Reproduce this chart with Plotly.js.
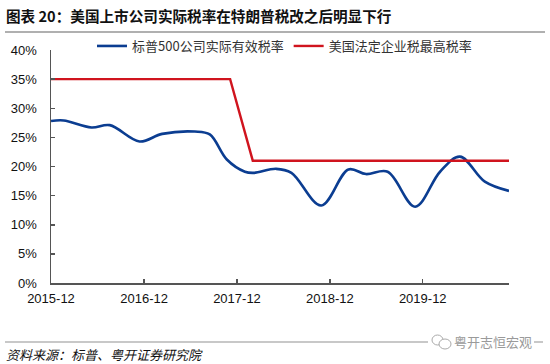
<!DOCTYPE html>
<html>
<head>
<meta charset="utf-8">
<script src="https://cdn.plot.ly/plotly-3.0.1.min.js"></script>
<style>
html,body{margin:0;padding:0;background:#fff;}
#chart{width:550px;height:364px;}
</style>
</head>
<body>
<div id="chart"></div>
<script>
// Data
const blueName = '标普500公司实际有效税率';
const redName = '美国法定企业税最高税率';
const blueDates = ['2015-12-01','2016-01-20','2016-05-08','2016-07-19','2016-11-13','2017-02-10','2017-06-18','2017-08-16','2017-10-22','2018-01-01','2018-02-03','2018-05-04','2018-07-03','2018-10-28','2019-02-12','2019-04-22','2019-07-16','2019-11-01','2020-02-07','2020-04-25','2020-08-01','2020-11-04'];
const blueValues = [27.8,27.9,26.7,27.1,24.3,25.6,26.0,25.5,21.2,19.1,18.9,19.6,18.9,13.3,19.5,18.7,19.1,13.1,19.1,21.7,17.4,15.8];
const redDates = ['2015-12-01','2017-11-04','2018-02-01','2020-11-04'];
const redValues = [35,35,21,21];
const tickDates = ['2015-12-01','2016-12-01','2017-12-01','2018-12-01','2019-12-01'];
const tickLabels = ['2015-12','2016-12','2017-12','2018-12','2019-12'];

const F = 'Liberation Sans, Arial, Noto Sans CJK SC, sans-serif';
const CJK = 'Noto Sans CJK SC, Liberation Sans, sans-serif';

const traces = [
  {x: blueDates, y: blueValues, name: blueName, type: 'scatter', mode: 'lines',
   line: {color: '#0b3d91', width: 2.6, shape: 'spline', smoothing: 1}},
  {x: redDates, y: redValues, name: redName, type: 'scatter', mode: 'lines',
   line: {color: '#d0141e', width: 2.4}}
];

// pixel -> paper helpers for decorations (plot area 51..509 x 50..283)
const px = v => (v - 51) / 458;
const py = v => (283 - v) / 233;

const layout = {
  width: 550, height: 364,
  margin: {l: 51, r: 41, t: 50, b: 81},
  paper_bgcolor: '#fff', plot_bgcolor: '#fff',
  font: {family: F, size: 13, color: '#111'},
  showlegend: true,
  legend: {orientation: 'h', x: px(92), y: py(46), xanchor: 'left', yanchor: 'middle',
           font: {family: CJK, size: 13, color: '#333'}, bgcolor: 'rgba(0,0,0,0)', tracegroupgap: 0},
  xaxis: {type: 'date', range: ['2015-12-01','2020-11-04'], tickvals: tickDates, ticktext: tickLabels,
          showgrid: false, zeroline: false, showline: true, linecolor: '#555', linewidth: 1.5,
          ticks: 'inside', ticklen: 4, tickcolor: '#555', tickwidth: 1.5, ticklabelstandoff: 3,
          tickfont: {family: F, size: 13, color: '#111'}, fixedrange: true},
  yaxis: {range: [0, 40], dtick: 5, ticksuffix: '%', showgrid: false, zeroline: false,
          showline: true, linecolor: '#555', linewidth: 1.5,
          ticks: 'inside', ticklen: 4, tickcolor: '#555', tickwidth: 1.5, ticklabelstandoff: 10,
          tickfont: {family: F, size: 13, color: '#111'}, fixedrange: true},
  shapes: [
    {type: 'line', xref: 'paper', yref: 'paper', x0: px(5), x1: px(545), y0: py(32), y1: py(32),
     line: {color: '#b0b0b0', width: 2}},
    {type: 'line', xref: 'paper', yref: 'paper', x0: px(5), x1: px(543), y0: py(342), y1: py(342),
     line: {color: '#c8c8c8', width: 2}},
    {type: 'rect', xref: 'paper', yref: 'paper', x0: px(428), x1: px(534), y0: py(334), y1: py(349),
     fillcolor: '#fff', line: {width: 0}},
    {type: 'circle', xref: 'paper', yref: 'paper', x0: px(432), x1: px(443), y0: py(345), y1: py(335),
     line: {color: '#aaa', width: 1}},
    {type: 'circle', xref: 'paper', yref: 'paper', x0: px(439), x1: px(451), y0: py(349), y1: py(339),
     fillcolor: '#fff', line: {color: '#aaa', width: 1}}
  ],
  annotations: [
    {text: '<b>图表 20：美国上市公司实际税率在特朗普税改之后明显下行</b>', xref: 'paper', yref: 'paper',
     x: px(4), y: py(15), xanchor: 'left', yanchor: 'middle', showarrow: false,
     font: {family: CJK, size: 14.6, color: '#111'}},
    {text: '<i>资料来源：标普、粤开证券研究院</i>', xref: 'paper', yref: 'paper',
     x: px(4), y: py(354), xanchor: 'left', yanchor: 'middle', showarrow: false,
     font: {family: CJK, size: 13, color: '#111'}},
    {text: '粤开志恒宏观', xref: 'paper', yref: 'paper',
     x: px(452), y: py(341), xanchor: 'left', yanchor: 'middle', showarrow: false,
     font: {family: CJK, size: 13, color: '#9a9a9a'}}
  ]
};

Plotly.newPlot('chart', traces, layout, {displayModeBar: false, staticPlot: true});
</script>
</body>
</html>
